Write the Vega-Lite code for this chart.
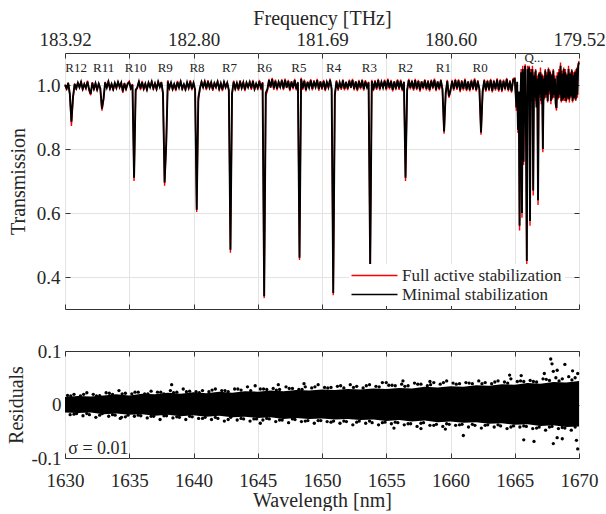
{
"$schema": "https://vega.github.io/schema/vega-lite/v6.json",
"padding": {"left": 6, "top": 7, "right": 0, "bottom": 0},
"config": {
"font": "Liberation Serif",
"view": {"stroke": "#333333", "strokeWidth": 1},
"axis": {"labelFont": "Liberation Serif", "titleFont": "Liberation Serif", "labelFontSize": 19, "titleFontSize": 20, "titleFontWeight": "normal", "labelColor": "#262626", "titleColor": "#262626", "tickColor": "#333333", "tickSize": -5, "domain": false, "gridColor": "#e3e3e3", "labelFlush": false, "labelOverlap": false}
},
"datasets": {
"spec": [
{"w":1630,"m":1.000,"a":1.002},{"w":1630.125,"m":0.989,"a":0.984},{"w":1630.25,"m":1.006,"a":1.008},{"w":1630.375,"m":0.973,"a":0.968},{"w":1630.5,"m":0.885,"a":0.872},{"w":1630.625,"m":0.963,"a":0.958},{"w":1630.75,"m":1.003,"a":1.005},{"w":1630.875,"m":0.990,"a":0.985},
{"w":1631,"m":1.007,"a":1.009},{"w":1631.125,"m":0.993,"a":0.991},{"w":1631.25,"m":1.009,"a":1.013},{"w":1631.375,"m":0.988,"a":0.983},{"w":1631.5,"m":1.002,"a":1.004},{"w":1631.625,"m":0.991,"a":0.989},{"w":1631.75,"m":1.010,"a":1.014},{"w":1631.875,"m":0.987,"a":0.982},
{"w":1632,"m":0.972,"a":0.968},{"w":1632.125,"m":1.007,"a":1.009},{"w":1632.25,"m":0.988,"a":0.983},{"w":1632.375,"m":1.005,"a":1.007},{"w":1632.5,"m":0.986,"a":0.981},{"w":1632.625,"m":1.004,"a":1.006},{"w":1632.75,"m":0.989,"a":0.984},{"w":1632.875,"m":0.926,"a":0.920},
{"w":1633,"m":0.958,"a":0.952},{"w":1633.125,"m":1.008,"a":1.010},{"w":1633.25,"m":0.992,"a":0.990},{"w":1633.375,"m":1.010,"a":1.014},{"w":1633.5,"m":0.989,"a":0.984},{"w":1633.625,"m":1.003,"a":1.005},{"w":1633.75,"m":0.987,"a":0.982},{"w":1633.875,"m":1.006,"a":1.008},
{"w":1634,"m":0.991,"a":0.989},{"w":1634.125,"m":1.009,"a":1.013},{"w":1634.25,"m":0.994,"a":0.992},{"w":1634.375,"m":1.007,"a":1.009},{"w":1634.5,"m":0.980,"a":0.975},{"w":1634.625,"m":1.005,"a":1.007},{"w":1634.75,"m":0.988,"a":0.983},{"w":1634.875,"m":1.004,"a":1.006},
{"w":1635,"m":1.008,"a":1.012},{"w":1635.125,"m":0.990,"a":0.985},{"w":1635.25,"m":1.001,"a":1.003},{"w":1635.375,"m":0.710,"a":0.700},{"w":1635.5,"m":0.985,"a":0.980},{"w":1635.625,"m":0.992,"a":0.990},{"w":1635.75,"m":1.010,"a":1.014},{"w":1635.875,"m":0.989,"a":0.984},
{"w":1636,"m":1.009,"a":1.013},{"w":1636.125,"m":0.989,"a":0.984},{"w":1636.25,"m":1.004,"a":1.006},{"w":1636.375,"m":0.986,"a":0.981},{"w":1636.5,"m":1.007,"a":1.009},{"w":1636.625,"m":0.993,"a":0.991},{"w":1636.75,"m":1.010,"a":1.014},{"w":1636.875,"m":0.990,"a":0.985},
{"w":1637,"m":1.005,"a":1.007},{"w":1637.125,"m":0.988,"a":0.983},{"w":1637.25,"m":1.010,"a":1.014},{"w":1637.375,"m":0.994,"a":0.992},{"w":1637.5,"m":1.008,"a":1.010},{"w":1637.625,"m":0.975,"a":0.970},{"w":1637.75,"m":0.695,"a":0.685},{"w":1637.875,"m":0.815,"a":0.805},
{"w":1638,"m":1.011,"a":1.015},{"w":1638.125,"m":0.991,"a":0.989},{"w":1638.25,"m":1.007,"a":1.009},{"w":1638.375,"m":0.988,"a":0.983},{"w":1638.5,"m":1.003,"a":1.005},{"w":1638.625,"m":0.986,"a":0.981},{"w":1638.75,"m":1.009,"a":1.013},{"w":1638.875,"m":0.992,"a":0.990},
{"w":1639,"m":1.010,"a":1.014},{"w":1639.125,"m":0.989,"a":0.984},{"w":1639.25,"m":1.002,"a":1.004},{"w":1639.375,"m":0.987,"a":0.982},{"w":1639.5,"m":1.008,"a":1.010},{"w":1639.625,"m":0.991,"a":0.989},{"w":1639.75,"m":1.011,"a":1.015},{"w":1639.875,"m":0.988,"a":0.983},
{"w":1640,"m":1.006,"a":1.008},{"w":1640.125,"m":0.986,"a":0.981},{"w":1640.25,"m":0.610,"a":0.603},{"w":1640.375,"m":0.960,"a":0.950},{"w":1640.5,"m":0.990,"a":0.985},{"w":1640.625,"m":1.009,"a":1.013},{"w":1640.75,"m":0.993,"a":0.991},{"w":1640.875,"m":1.010,"a":1.014},
{"w":1641,"m":0.989,"a":0.984},{"w":1641.125,"m":1.011,"a":1.015},{"w":1641.25,"m":0.992,"a":0.990},{"w":1641.375,"m":1.008,"a":1.010},{"w":1641.5,"m":0.987,"a":0.982},{"w":1641.625,"m":1.006,"a":1.008},{"w":1641.75,"m":0.994,"a":0.992},{"w":1641.875,"m":1.010,"a":1.014},
{"w":1642,"m":0.988,"a":0.983},{"w":1642.125,"m":1.005,"a":1.007},{"w":1642.25,"m":0.986,"a":0.981},{"w":1642.375,"m":1.009,"a":1.013},{"w":1642.5,"m":0.993,"a":0.991},{"w":1642.625,"m":1.007,"a":1.009},{"w":1642.75,"m":0.985,"a":0.980},{"w":1642.875,"m":0.485,"a":0.476},
{"w":1643,"m":0.975,"a":0.968},{"w":1643.125,"m":1.010,"a":1.014},{"w":1643.25,"m":0.989,"a":0.984},{"w":1643.375,"m":1.006,"a":1.008},{"w":1643.5,"m":0.987,"a":0.982},{"w":1643.625,"m":1.011,"a":1.015},{"w":1643.75,"m":0.991,"a":0.989},{"w":1643.875,"m":1.008,"a":1.010},
{"w":1644,"m":0.986,"a":0.981},{"w":1644.125,"m":1.007,"a":1.009},{"w":1644.25,"m":0.993,"a":0.991},{"w":1644.375,"m":1.009,"a":1.013},{"w":1644.5,"m":0.990,"a":0.985},{"w":1644.625,"m":1.012,"a":1.016},{"w":1644.75,"m":0.988,"a":0.983},{"w":1644.875,"m":1.004,"a":1.006},
{"w":1645,"m":0.991,"a":0.986},{"w":1645.125,"m":1.012,"a":1.016},{"w":1645.25,"m":0.989,"a":0.984},{"w":1645.375,"m":1.007,"a":1.009},{"w":1645.5,"m":0.340,"a":0.334},{"w":1645.625,"m":0.975,"a":0.965},{"w":1645.75,"m":0.987,"a":0.982},{"w":1645.875,"m":1.015,"a":1.019},
{"w":1646,"m":0.993,"a":0.991},{"w":1646.125,"m":1.018,"a":1.022},{"w":1646.25,"m":0.990,"a":0.985},{"w":1646.375,"m":1.013,"a":1.017},{"w":1646.5,"m":0.988,"a":0.983},{"w":1646.625,"m":1.009,"a":1.011},{"w":1646.75,"m":0.994,"a":0.992},{"w":1646.875,"m":1.014,"a":1.018},
{"w":1647,"m":0.989,"a":0.984},{"w":1647.125,"m":1.016,"a":1.020},{"w":1647.25,"m":0.992,"a":0.990},{"w":1647.375,"m":1.012,"a":1.016},{"w":1647.5,"m":0.986,"a":0.981},{"w":1647.625,"m":1.010,"a":1.012},{"w":1647.75,"m":0.991,"a":0.986},{"w":1647.875,"m":1.015,"a":1.019},
{"w":1648,"m":0.988,"a":0.983},{"w":1648.125,"m":1.008,"a":1.010},{"w":1648.25,"m":0.460,"a":0.453},{"w":1648.375,"m":1.019,"a":1.023},{"w":1648.5,"m":0.990,"a":0.985},{"w":1648.625,"m":1.013,"a":1.017},{"w":1648.75,"m":0.985,"a":0.980},{"w":1648.875,"m":1.009,"a":1.011},
{"w":1649,"m":0.992,"a":0.990},{"w":1649.125,"m":1.014,"a":1.018},{"w":1649.25,"m":0.988,"a":0.983},{"w":1649.375,"m":1.011,"a":1.015},{"w":1649.5,"m":0.994,"a":0.992},{"w":1649.625,"m":1.015,"a":1.019},{"w":1649.75,"m":0.987,"a":0.982},{"w":1649.875,"m":1.010,"a":1.012},
{"w":1650,"m":0.990,"a":0.985},{"w":1650.125,"m":1.012,"a":1.016},{"w":1650.25,"m":0.986,"a":0.981},{"w":1650.375,"m":1.009,"a":1.011},{"w":1650.5,"m":0.993,"a":0.991},{"w":1650.625,"m":1.016,"a":1.020},{"w":1650.75,"m":0.989,"a":0.984},{"w":1650.875,"m":0.350,"a":0.343},
{"w":1651,"m":0.970,"a":0.962},{"w":1651.125,"m":1.011,"a":1.015},{"w":1651.25,"m":0.987,"a":0.982},{"w":1651.375,"m":1.008,"a":1.010},{"w":1651.5,"m":0.990,"a":0.985},{"w":1651.625,"m":1.014,"a":1.018},{"w":1651.75,"m":0.988,"a":0.983},{"w":1651.875,"m":1.009,"a":1.011},
{"w":1652,"m":0.989,"a":0.984},{"w":1652.125,"m":1.013,"a":1.017},{"w":1652.25,"m":0.992,"a":0.990},{"w":1652.375,"m":1.015,"a":1.019},{"w":1652.5,"m":0.988,"a":0.983},{"w":1652.625,"m":1.010,"a":1.012},{"w":1652.75,"m":0.986,"a":0.981},{"w":1652.875,"m":1.012,"a":1.016},
{"w":1653,"m":0.991,"a":0.986},{"w":1653.125,"m":1.014,"a":1.018},{"w":1653.25,"m":0.987,"a":0.982},{"w":1653.375,"m":1.011,"a":1.015},{"w":1653.5,"m":0.993,"a":0.991},{"w":1653.625,"m":1.008,"a":1.010},{"w":1653.75,"m":0.430,"a":0.424},{"w":1653.875,"m":1.012,"a":1.016},
{"w":1654,"m":0.986,"a":0.981},{"w":1654.125,"m":1.011,"a":1.015},{"w":1654.25,"m":0.990,"a":0.985},{"w":1654.375,"m":1.015,"a":1.019},{"w":1654.5,"m":0.988,"a":0.983},{"w":1654.625,"m":1.009,"a":1.011},{"w":1654.75,"m":0.992,"a":0.990},{"w":1654.875,"m":1.013,"a":1.017},
{"w":1655,"m":0.988,"a":0.983},{"w":1655.125,"m":1.016,"a":1.020},{"w":1655.25,"m":0.991,"a":0.986},{"w":1655.375,"m":1.012,"a":1.016},{"w":1655.5,"m":0.985,"a":0.980},{"w":1655.625,"m":1.010,"a":1.012},{"w":1655.75,"m":0.989,"a":0.984},{"w":1655.875,"m":1.014,"a":1.018},
{"w":1656,"m":0.990,"a":0.985},{"w":1656.125,"m":1.013,"a":1.017},{"w":1656.25,"m":0.986,"a":0.981},{"w":1656.375,"m":1.009,"a":1.011},{"w":1656.5,"m":0.710,"a":0.700},{"w":1656.625,"m":0.985,"a":0.978},{"w":1656.75,"m":1.015,"a":1.019},{"w":1656.875,"m":0.991,"a":0.986},
{"w":1657,"m":1.012,"a":1.016},{"w":1657.125,"m":0.987,"a":0.982},{"w":1657.25,"m":1.015,"a":1.019},{"w":1657.375,"m":0.989,"a":0.984},{"w":1657.5,"m":1.012,"a":1.016},{"w":1657.625,"m":0.984,"a":0.979},{"w":1657.75,"m":1.010,"a":1.012},{"w":1657.875,"m":0.991,"a":0.986},
{"w":1658,"m":1.014,"a":1.018},{"w":1658.125,"m":0.988,"a":0.983},{"w":1658.25,"m":1.011,"a":1.015},{"w":1658.375,"m":0.985,"a":0.980},{"w":1658.5,"m":1.013,"a":1.017},{"w":1658.625,"m":0.992,"a":0.987},{"w":1658.75,"m":1.016,"a":1.020},{"w":1658.875,"m":0.986,"a":0.981},
{"w":1659,"m":1.010,"a":1.012},{"w":1659.125,"m":0.989,"a":0.984},{"w":1659.25,"m":1.014,"a":1.018},{"w":1659.375,"m":0.987,"a":0.982},{"w":1659.5,"m":0.855,"a":0.848},{"w":1659.625,"m":0.975,"a":0.968},{"w":1659.75,"m":1.012,"a":1.016},{"w":1659.875,"m":0.965,"a":0.960},
{"w":1660,"m":0.984,"a":0.979},{"w":1660.125,"m":1.012,"a":1.016},{"w":1660.25,"m":0.987,"a":0.982},{"w":1660.375,"m":1.015,"a":1.019},{"w":1660.5,"m":0.990,"a":0.985},{"w":1660.625,"m":1.014,"a":1.018},{"w":1660.75,"m":0.983,"a":0.978},{"w":1660.875,"m":1.011,"a":1.015},
{"w":1661,"m":0.988,"a":0.983},{"w":1661.125,"m":1.016,"a":1.020},{"w":1661.25,"m":0.986,"a":0.981},{"w":1661.375,"m":1.010,"a":1.012},{"w":1661.5,"m":0.985,"a":0.980},{"w":1661.625,"m":1.013,"a":1.017},{"w":1661.75,"m":0.989,"a":0.984},{"w":1661.875,"m":1.017,"a":1.021},
{"w":1662,"m":0.985,"a":0.980},{"w":1662.125,"m":1.011,"a":1.015},{"w":1662.25,"m":0.987,"a":0.982},{"w":1662.375,"m":0.852,"a":0.845},{"w":1662.5,"m":0.980,"a":0.972},{"w":1662.625,"m":1.014,"a":1.018},{"w":1662.75,"m":0.984,"a":0.979},{"w":1662.875,"m":1.012,"a":1.016},
{"w":1663,"m":0.986,"a":0.981},{"w":1663.125,"m":1.015,"a":1.019},{"w":1663.25,"m":0.982,"a":0.977},{"w":1663.375,"m":1.012,"a":1.016},{"w":1663.5,"m":0.987,"a":0.982},{"w":1663.625,"m":1.017,"a":1.021},{"w":1663.75,"m":0.984,"a":0.979},{"w":1663.875,"m":1.014,"a":1.018},
{"w":1664,"m":0.983,"a":0.978},{"w":1664.125,"m":1.013,"a":1.017},{"w":1664.25,"m":0.988,"a":0.983},{"w":1664.375,"m":1.018,"a":1.022},{"w":1664.5,"m":0.985,"a":0.980},{"w":1664.625,"m":1.011,"a":1.015},{"w":1664.75,"m":0.981,"a":0.976},{"w":1664.875,"m":1.016,"a":1.020},
{"w":1665,"m":1.018,"a":1.022},{"w":1665.0625,"m":0.980,"a":0.975},{"w":1665.125,"m":0.930,"a":0.920},{"w":1665.1875,"m":1.010,"a":1.000},{"w":1665.25,"m":0.860,"a":0.850},{"w":1665.3125,"m":0.980,"a":0.970},{"w":1665.375,"m":0.560,"a":0.545},{"w":1665.4375,"m":0.950,"a":0.940},
{"w":1665.5,"m":1.040,"a":1.050},{"w":1665.5625,"m":0.600,"a":0.585},{"w":1665.625,"m":1.050,"a":1.060},{"w":1665.6875,"m":0.760,"a":0.750},{"w":1665.75,"m":1.020,"a":1.030},{"w":1665.8125,"m":1.060,"a":1.065},{"w":1665.875,"m":0.850,"a":0.840},{"w":1665.9375,"m":0.450,"a":0.440},
{"w":1666,"m":1.050,"a":1.060},{"w":1666.0625,"m":0.980,"a":0.990},{"w":1666.125,"m":1.055,"a":1.060},{"w":1666.1875,"m":0.575,"a":0.560},{"w":1666.25,"m":1.040,"a":1.050},{"w":1666.3125,"m":0.950,"a":0.960},{"w":1666.375,"m":1.050,"a":1.060},{"w":1666.4375,"m":0.670,"a":0.655},
{"w":1666.5,"m":1.030,"a":1.040},{"w":1666.5625,"m":0.960,"a":0.950},{"w":1666.625,"m":1.045,"a":1.050},{"w":1666.6875,"m":0.930,"a":0.940},{"w":1666.75,"m":1.020,"a":1.030},{"w":1666.8125,"m":0.640,"a":0.625},{"w":1666.875,"m":1.035,"a":1.040},{"w":1666.9375,"m":0.970,"a":0.960},
{"w":1667,"m":1.040,"a":1.055},{"w":1667.0625,"m":0.950,"a":0.940},{"w":1667.125,"m":1.030,"a":1.035},{"w":1667.1875,"m":0.800,"a":0.790},{"w":1667.25,"m":1.020,"a":1.030},{"w":1667.3125,"m":0.960,"a":0.955},{"w":1667.375,"m":1.045,"a":1.050},{"w":1667.4375,"m":0.970,"a":0.960},
{"w":1667.5,"m":1.030,"a":1.040},{"w":1667.5625,"m":0.950,"a":0.945},{"w":1667.625,"m":1.050,"a":1.055},{"w":1667.6875,"m":0.980,"a":0.970},{"w":1667.75,"m":1.040,"a":1.045},{"w":1667.8125,"m":0.950,"a":0.940},{"w":1667.875,"m":1.030,"a":1.035},{"w":1667.9375,"m":0.960,"a":0.955},
{"w":1668,"m":1.045,"a":1.050},{"w":1668.0625,"m":0.970,"a":0.960},{"w":1668.125,"m":1.020,"a":1.030},{"w":1668.1875,"m":0.940,"a":0.935},{"w":1668.25,"m":0.928,"a":0.920},{"w":1668.3125,"m":1.030,"a":1.040},{"w":1668.375,"m":0.960,"a":0.955},{"w":1668.4375,"m":1.040,"a":1.050},
{"w":1668.5,"m":0.970,"a":0.960},{"w":1668.5625,"m":1.060,"a":1.070},{"w":1668.625,"m":0.950,"a":0.945},{"w":1668.6875,"m":1.035,"a":1.045},{"w":1668.75,"m":0.955,"a":0.950},{"w":1668.8125,"m":1.050,"a":1.055},{"w":1668.875,"m":0.960,"a":0.950},{"w":1668.9375,"m":1.040,"a":1.050},
{"w":1669,"m":0.950,"a":0.945},{"w":1669.0625,"m":1.030,"a":1.035},{"w":1669.125,"m":0.960,"a":0.955},{"w":1669.1875,"m":1.050,"a":1.060},{"w":1669.25,"m":0.955,"a":0.945},{"w":1669.3125,"m":1.035,"a":1.040},{"w":1669.375,"m":0.965,"a":0.960},{"w":1669.4375,"m":1.045,"a":1.050},
{"w":1669.5,"m":0.950,"a":0.945},{"w":1669.5625,"m":1.030,"a":1.040},{"w":1669.625,"m":0.960,"a":0.955},{"w":1669.6875,"m":1.040,"a":1.045},{"w":1669.75,"m":0.955,"a":0.950},{"w":1669.8125,"m":1.050,"a":1.055},{"w":1669.875,"m":0.970,"a":0.960},{"w":1669.9375,"m":1.060,"a":1.065},
{"w":1670,"m":1.070,"a":1.075}
],
"lab": [
{"w":1630.86,"label":"R12"},{"w":1633.0,"label":"R11"},{"w":1635.5,"label":"R10"},{"w":1637.8,"label":"R9"},{"w":1640.27,"label":"R8"},{"w":1642.8,"label":"R7"},{"w":1645.52,"label":"R6"},{"w":1648.2,"label":"R5"},{"w":1650.9,"label":"R4"},{"w":1653.68,"label":"R3"},{"w":1656.5,"label":"R2"},{"w":1659.44,"label":"R1"},{"w":1662.3,"label":"R0"}
],
"band": [
{"w":1630,"lo":-0.015,"hi":0.014},{"w":1631,"lo":-0.016,"hi":0.016},{"w":1632,"lo":-0.015,"hi":0.015},{"w":1633,"lo":-0.018,"hi":0.017},{"w":1634,"lo":-0.017,"hi":0.019},{"w":1635,"lo":-0.019,"hi":0.017},{"w":1636,"lo":-0.018,"hi":0.020},{"w":1637,"lo":-0.021,"hi":0.019},{"w":1638,"lo":-0.019,"hi":0.022},{"w":1639,"lo":-0.022,"hi":0.020},{"w":1640,"lo":-0.020,"hi":0.023},{"w":1641,"lo":-0.023,"hi":0.021},{"w":1642,"lo":-0.021,"hi":0.024},{"w":1643,"lo":-0.024,"hi":0.022},{"w":1644,"lo":-0.023,"hi":0.025},{"w":1645,"lo":-0.025,"hi":0.024},{"w":1646,"lo":-0.024,"hi":0.026},{"w":1647,"lo":-0.027,"hi":0.025},{"w":1648,"lo":-0.025,"hi":0.027},{"w":1649,"lo":-0.027,"hi":0.026},{"w":1650,"lo":-0.026,"hi":0.028},{"w":1651,"lo":-0.028,"hi":0.027},{"w":1652,"lo":-0.027,"hi":0.029},{"w":1653,"lo":-0.029,"hi":0.028},{"w":1654,"lo":-0.028,"hi":0.030},{"w":1655,"lo":-0.031,"hi":0.029},{"w":1656,"lo":-0.029,"hi":0.031},{"w":1657,"lo":-0.032,"hi":0.030},{"w":1658,"lo":-0.030,"hi":0.033},{"w":1659,"lo":-0.033,"hi":0.032},{"w":1660,"lo":-0.032,"hi":0.034},{"w":1661,"lo":-0.034,"hi":0.033},{"w":1662,"lo":-0.033,"hi":0.036},{"w":1663,"lo":-0.036,"hi":0.035},{"w":1664,"lo":-0.035,"hi":0.038},{"w":1665,"lo":-0.038,"hi":0.037},{"w":1666,"lo":-0.037,"hi":0.040},{"w":1667,"lo":-0.040,"hi":0.039},{"w":1668,"lo":-0.039,"hi":0.042},{"w":1669,"lo":-0.042,"hi":0.041},{"w":1670,"lo":-0.041,"hi":0.044}
],
"res": [
{"w":1630.2,"r":0.017},{"w":1630.7,"r":0.019},{"w":1631.2,"r":0.016},{"w":1631.7,"r":0.022},{"w":1632.2,"r":0.019},{"w":1632.7,"r":0.0165},{"w":1633.2,"r":0.022},{"w":1633.7,"r":0.019},{"w":1634.2,"r":0.026},{"w":1634.7,"r":0.021},{"w":1635.2,"r":0.020},{"w":1635.7,"r":0.023},{"w":1636.2,"r":0.020},{"w":1636.7,"r":0.025},{"w":1637.2,"r":0.023},{"w":1637.7,"r":0.020},{"w":1638.2,"r":0.026},{"w":1638.3,"r":0.037},{"w":1638.7,"r":0.023},{"w":1639.2,"r":0.029},{"w":1639.7,"r":0.025},{"w":1640.2,"r":0.024},{"w":1640.7,"r":0.026},{"w":1641.2,"r":0.024},{"w":1641.7,"r":0.029},{"w":1642.2,"r":0.026},{"w":1642.7,"r":0.024},{"w":1643.2,"r":0.029},{"w":1643.7,"r":0.027},{"w":1644.2,"r":0.033},{"w":1644.8,"r":0.035},{"w":1645.2,"r":0.029},{"w":1645.7,"r":0.028},{"w":1646.2,"r":0.030},{"w":1646.6,"r":0.037},{"w":1646.7,"r":0.028},{"w":1647.2,"r":0.033},{"w":1647.7,"r":0.030},{"w":1648.2,"r":0.028},{"w":1648.6,"r":0.039},{"w":1648.7,"r":0.033},{"w":1649.2,"r":0.031},{"w":1649.7,"r":0.037},{"w":1650.2,"r":0.032},{"w":1650.7,"r":0.032},{"w":1651.2,"r":0.034},{"w":1651.7,"r":0.031},{"w":1652.2,"r":0.037},{"w":1652.7,"r":0.034},{"w":1653.2,"r":0.031},{"w":1653.7,"r":0.037},{"w":1654.2,"r":0.034},{"w":1654.7,"r":0.041},{"w":1655.0,"r":0.041},{"w":1655.2,"r":0.036},{"w":1655.7,"r":0.035},{"w":1656.2,"r":0.038},{"w":1656.3,"r":0.044},{"w":1656.7,"r":0.035},{"w":1657.2,"r":0.040},{"w":1657.7,"r":0.038},{"w":1658.2,"r":0.035},{"w":1658.4,"r":0.043},{"w":1658.7,"r":0.041},{"w":1659.2,"r":0.038},{"w":1659.7,"r":0.044},{"w":1660.2,"r":0.040},{"w":1660.7,"r":0.039},{"w":1661.2,"r":0.041},{"w":1661.7,"r":0.039},{"w":1662.2,"r":0.044},{"w":1662.7,"r":0.041},{"w":1663.2,"r":0.039},{"w":1663.7,"r":0.044},{"w":1664.2,"r":0.042},{"w":1664.6,"r":0.055},{"w":1664.7,"r":0.048},{"w":1665.2,"r":0.043},{"w":1665.5,"r":0.054},{"w":1665.7,"r":0.043},{"w":1666.2,"r":0.045},{"w":1666.7,"r":0.042},{"w":1667.2,"r":0.048},{"w":1667.3,"r":0.058},{"w":1667.7,"r":0.045},{"w":1667.8,"r":0.085},{"w":1667.9,"r":0.076},{"w":1668.0,"r":0.062},{"w":1668.2,"r":0.050},{"w":1668.3,"r":0.064},{"w":1668.7,"r":0.048},{"w":1668.9,"r":0.075},{"w":1669.2,"r":0.052},{"w":1669.5,"r":0.063},{"w":1669.7,"r":0.050},{"w":1669.9,"r":0.058},
{"w":1630.45,"r":0.016},{"w":1631.45,"r":0.019},{"w":1632.45,"r":0.016},{"w":1633.45,"r":0.021},{"w":1634.45,"r":0.020},{"w":1635.45,"r":0.023},{"w":1636.45,"r":0.020},{"w":1637.45,"r":0.023},{"w":1638.45,"r":0.022},{"w":1639.45,"r":0.024},{"w":1640.45,"r":0.022},{"w":1641.45,"r":0.027},{"w":1642.45,"r":0.026},{"w":1643.45,"r":0.029},{"w":1644.45,"r":0.026},{"w":1645.45,"r":0.029},{"w":1646.45,"r":0.027},{"w":1647.45,"r":0.030},{"w":1648.45,"r":0.028},{"w":1649.45,"r":0.033},{"w":1650.45,"r":0.031},{"w":1651.45,"r":0.035},{"w":1652.45,"r":0.032},{"w":1653.45,"r":0.035},{"w":1654.45,"r":0.033},{"w":1655.45,"r":0.036},{"w":1656.45,"r":0.034},{"w":1657.45,"r":0.038},{"w":1658.45,"r":0.037},{"w":1659.45,"r":0.041},{"w":1660.45,"r":0.038},{"w":1661.45,"r":0.040},{"w":1662.45,"r":0.039},{"w":1663.45,"r":0.042},{"w":1664.45,"r":0.040},{"w":1665.45,"r":0.044},{"w":1666.45,"r":0.043},{"w":1667.45,"r":0.047},{"w":1668.45,"r":0.044},{"w":1669.45,"r":0.046},
{"w":1630.4,"r":-0.019},{"w":1630.9,"r":-0.017},{"w":1631.4,"r":-0.021},{"w":1631.9,"r":-0.019},{"w":1632.4,"r":-0.024},{"w":1632.9,"r":-0.017},{"w":1633.4,"r":-0.022},{"w":1633.9,"r":-0.020},{"w":1634.3,"r":-0.026},{"w":1634.4,"r":-0.024},{"w":1634.9,"r":-0.020},{"w":1635.4,"r":-0.022},{"w":1635.9,"r":-0.021},{"w":1636.4,"r":-0.025},{"w":1636.9,"r":-0.022},{"w":1637.4,"r":-0.028},{"w":1637.9,"r":-0.021},{"w":1638.4,"r":-0.025},{"w":1638.9,"r":-0.024},{"w":1639.4,"r":-0.028},{"w":1639.9,"r":-0.023},{"w":1640.4,"r":-0.026},{"w":1640.9,"r":-0.024},{"w":1641.4,"r":-0.028},{"w":1641.9,"r":-0.026},{"w":1642.4,"r":-0.031},{"w":1642.9,"r":-0.024},{"w":1643.4,"r":-0.029},{"w":1643.9,"r":-0.027},{"w":1644.4,"r":-0.031},{"w":1644.9,"r":-0.027},{"w":1645.2,"r":-0.035},{"w":1645.4,"r":-0.029},{"w":1645.9,"r":-0.027},{"w":1646.4,"r":-0.032},{"w":1646.9,"r":-0.029},{"w":1647.4,"r":-0.034},{"w":1647.9,"r":-0.028},{"w":1648.4,"r":-0.032},{"w":1648.9,"r":-0.030},{"w":1649.4,"r":-0.035},{"w":1649.9,"r":-0.030},{"w":1650.4,"r":-0.032},{"w":1650.9,"r":-0.031},{"w":1651.4,"r":-0.035},{"w":1651.9,"r":-0.032},{"w":1652.4,"r":-0.038},{"w":1652.9,"r":-0.031},{"w":1653.4,"r":-0.035},{"w":1653.9,"r":-0.034},{"w":1654.4,"r":-0.038},{"w":1654.9,"r":-0.033},{"w":1655.4,"r":-0.036},{"w":1655.6,"r":-0.044},{"w":1655.9,"r":-0.034},{"w":1656.4,"r":-0.038},{"w":1656.9,"r":-0.036},{"w":1657.4,"r":-0.041},{"w":1657.7,"r":-0.045},{"w":1657.9,"r":-0.034},{"w":1658.4,"r":-0.039},{"w":1658.9,"r":-0.037},{"w":1659.4,"r":-0.041},{"w":1659.6,"r":-0.046},{"w":1659.9,"r":-0.037},{"w":1660.4,"r":-0.039},{"w":1660.9,"r":-0.037},{"w":1661.0,"r":-0.058},{"w":1661.4,"r":-0.042},{"w":1661.9,"r":-0.039},{"w":1662.4,"r":-0.044},{"w":1662.9,"r":-0.038},{"w":1663.4,"r":-0.042},{"w":1663.9,"r":-0.040},{"w":1664.4,"r":-0.045},{"w":1664.9,"r":-0.040},{"w":1665.4,"r":-0.042},{"w":1665.7,"r":-0.066},{"w":1665.9,"r":-0.041},{"w":1666.4,"r":-0.045},{"w":1666.5,"r":-0.069},{"w":1666.9,"r":-0.042},{"w":1667.4,"r":-0.048},{"w":1667.9,"r":-0.041},{"w":1668.0,"r":-0.073},{"w":1668.3,"r":-0.062},{"w":1668.4,"r":-0.045},{"w":1668.7,"r":-0.064},{"w":1668.9,"r":-0.044},{"w":1669.4,"r":-0.048},{"w":1669.8,"r":-0.067},{"w":1669.9,"r":-0.083},
{"w":1630.7,"r":-0.018},{"w":1631.7,"r":-0.017},{"w":1632.7,"r":-0.020},{"w":1633.7,"r":-0.019},{"w":1634.7,"r":-0.023},{"w":1635.7,"r":-0.020},{"w":1636.7,"r":-0.022},{"w":1637.7,"r":-0.021},{"w":1638.7,"r":-0.023},{"w":1639.7,"r":-0.022},{"w":1640.7,"r":-0.026},{"w":1641.7,"r":-0.024},{"w":1642.7,"r":-0.028},{"w":1643.7,"r":-0.026},{"w":1644.7,"r":-0.027},{"w":1645.7,"r":-0.026},{"w":1646.7,"r":-0.029},{"w":1647.7,"r":-0.027},{"w":1648.7,"r":-0.031},{"w":1649.7,"r":-0.030},{"w":1650.7,"r":-0.033},{"w":1651.7,"r":-0.031},{"w":1652.7,"r":-0.033},{"w":1653.7,"r":-0.031},{"w":1654.7,"r":-0.034},{"w":1655.7,"r":-0.033},{"w":1656.7,"r":-0.036},{"w":1657.7,"r":-0.035},{"w":1658.7,"r":-0.039},{"w":1659.7,"r":-0.036},{"w":1660.7,"r":-0.038},{"w":1661.7,"r":-0.037},{"w":1662.7,"r":-0.039},{"w":1663.7,"r":-0.038},{"w":1664.7,"r":-0.042},{"w":1665.7,"r":-0.040},{"w":1666.7,"r":-0.044},{"w":1667.7,"r":-0.042},{"w":1668.7,"r":-0.043},{"w":1669.7,"r":-0.042}
]
},
"vconcat": [
{
"width": 514, "height": 256,
"layer": [
{"data": {"name": "spec"}, "mark": {"type": "line", "strokeWidth": 1.4},
"encoding": {
"x": {"field": "w", "type": "quantitative", "scale": {"domain": [1630, 1670], "nice": false, "zero": false}, "axis": {"orient": "bottom", "values": [1630,1635,1640,1645,1650,1655,1660,1665,1670], "labels": false, "title": null, "grid": true}},
"y": {"field": "a", "type": "quantitative", "scale": {"domain": [0.3, 1.1], "nice": false, "zero": false}, "axis": {"orient": "left", "values": [0.4,0.6,0.8,1.0], "format": ".1f", "grid": true, "labelPadding": 10, "labelFont": "Liberation Serif", "labelFontSize": 19, "title": "Transmission", "titleFont": "Liberation Serif", "titleFontSize": 20, "titlePadding": 8}},
"color": {"datum": "Full active stabilization", "scale": {"domain": ["Full active stabilization", "Minimal stabilization"], "range": ["#ff0000", "#000000"]},
"legend": {"orient": "none", "legendX": 284, "legendY": 211, "title": null, "symbolType": "M-41,0H5", "symbolSize": 4, "symbolStrokeWidth": 1.5, "symbolOffset": 32, "labelOffset": 1, "labelLimit": 300, "labelFontSize": 17, "labelFont": "Liberation Serif", "labelColor": "#262626", "fillColor": "white", "padding": 3, "rowPadding": 1}}
}},
{"data": {"name": "spec"}, "mark": {"type": "line", "strokeWidth": 1.9},
"encoding": {
"x": {"field": "w", "type": "quantitative", "axis": {"orient": "top", "values": [1630,1635,1640,1645,1650,1655,1660,1665,1670], "labelExpr": "datum.value % 10 === 0 ? format(299792.458 / datum.value, '.2f') : ''", "labelPadding": 9, "labelFont": "Liberation Serif", "labelFontSize": 19, "title": "Frequency [THz]", "titleFont": "Liberation Serif", "titleFontSize": 20, "titlePadding": 2, "grid": false}},
"y": {"field": "m", "type": "quantitative", "axis": {"orient": "right", "values": [0.4,0.6,0.8,1.0], "labels": false, "title": null, "grid": false}},
"color": {"datum": "Minimal stabilization"}
}},
{"data": {"name": "lab"}, "mark": {"type": "text", "font": "Liberation Serif", "fontSize": 13, "color": "#262626", "baseline": "middle"},
"encoding": {
"x": {"field": "w", "type": "quantitative", "axis": null},
"y": {"datum": 1.052, "type": "quantitative", "axis": null},
"text": {"field": "label"}
}},
{"data": {"values": [{"w": 1666.5, "label": "Q..."}]}, "mark": {"type": "text", "font": "Liberation Serif", "fontSize": 13, "color": "#262626", "baseline": "middle"},
"encoding": {
"x": {"field": "w", "type": "quantitative", "axis": null},
"y": {"datum": 1.083, "type": "quantitative", "axis": null},
"text": {"field": "label"}
}}
],
"resolve": {"axis": {"x": "independent", "y": "independent"}}
},
{
"width": 514, "height": 107,
"layer": [
{"data": {"name": "band"}, "mark": {"type": "area", "color": "#000000"},
"encoding": {
"x": {"field": "w", "type": "quantitative", "scale": {"domain": [1630, 1670], "nice": false, "zero": false}, "axis": {"orient": "bottom", "values": [1630,1635,1640,1645,1650,1655,1660,1665,1670], "format": "d", "labelPadding": 18, "labelFont": "Liberation Serif", "labelFontSize": 19, "title": "Wavelength [nm]", "titleFont": "Liberation Serif", "titleFontSize": 20, "titlePadding": 0, "grid": true}},
"y": {"field": "lo", "type": "quantitative", "scale": {"domain": [-0.1, 0.1], "nice": false, "zero": false}, "axis": {"orient": "left", "values": [-0.1, 0, 0.1], "labelExpr": "datum.value === 0 ? '0' : (datum.value > 0 ? '0.1' : '-0.1')", "labelPadding": 9, "labelFont": "Liberation Serif", "labelFontSize": 19, "grid": false, "title": "Residuals", "titleFont": "Liberation Serif", "titleFontSize": 20, "titlePadding": 4}},
"y2": {"field": "hi"}
}},
{"data": {"name": "res"}, "mark": {"type": "circle", "size": 11, "color": "#000000", "opacity": 1},
"encoding": {
"x": {"field": "w", "type": "quantitative", "axis": {"orient": "top", "values": [1630,1635,1640,1645,1650,1655,1660,1665,1670], "labels": false, "title": null, "grid": false}},
"y": {"field": "r", "type": "quantitative", "axis": {"orient": "right", "values": [-0.1, 0, 0.1], "labels": false, "title": null, "grid": false}}
}},
{"data": {"values": [{"t": "σ = 0.01"}]}, "mark": {"type": "text", "font": "Liberation Serif", "fontSize": 18, "color": "#262626", "align": "left", "baseline": "alphabetic"},
"encoding": {
"x": {"datum": 1630.25, "type": "quantitative", "axis": null},
"y": {"datum": -0.092, "type": "quantitative", "axis": null},
"text": {"field": "t"}
}}
],
"resolve": {"axis": {"x": "independent", "y": "independent"}}
}
],
"spacing": 42,
"bounds": "flush",
"resolve": {"scale": {"color": "independent"}, "legend": {"color": "independent"}}
}
